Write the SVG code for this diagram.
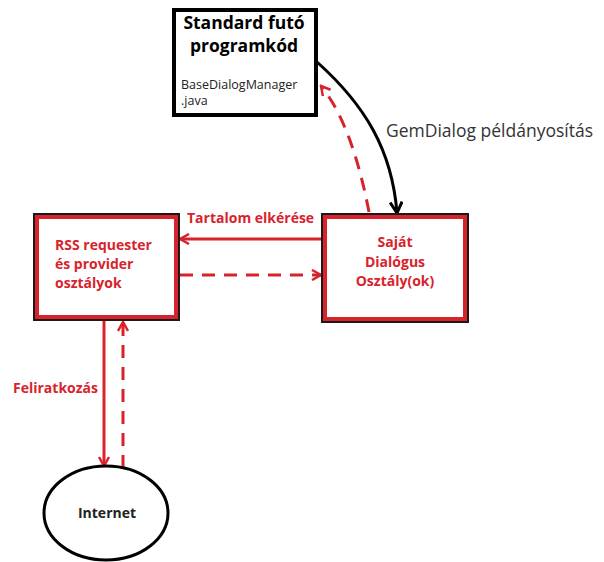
<svg xmlns="http://www.w3.org/2000/svg" width="604" height="562" viewBox="0 0 604 562">
  <style>
    .t { font-family: "Open Sans", "Liberation Sans", sans-serif; }
    .red { fill: #d8232c; font-weight: bold; font-size: 14px; }
    .box-red { fill: #fff; stroke: #d8232c; stroke-width: 4; }
    .box-shadow { fill: none; stroke: #1a1a1a; stroke-width: 2; }
    .ln-red { fill: none; stroke: #d8232c; stroke-width: 3; }
    .dash { stroke-dasharray: 13 9; }
  </style>
  <defs>
    <marker id="ah-red" viewBox="0 0 12 12" refX="10" refY="6" markerWidth="12" markerHeight="12" markerUnits="userSpaceOnUse" orient="auto">
      <path d="M1,1 L10,6 L1,11" fill="none" stroke="#d8232c" stroke-width="2.5"/>
    </marker>
    <marker id="ah-black" viewBox="0 0 14 14" refX="12" refY="7" markerWidth="14" markerHeight="14" markerUnits="userSpaceOnUse" orient="auto">
      <path d="M1,1 L12,7 L1,13" fill="none" stroke="#000" stroke-width="3"/>
    </marker>
  </defs>
  <rect width="604" height="562" fill="#fff"/>

  <g id="connectors">
    <path d="M317,62 C365,105 392,150 397,213" fill="none" stroke="#000" stroke-width="3" marker-end="url(#ah-black)"/>
    <path class="ln-red dash" d="M369,212 C360,165 345,115 321,86" marker-end="url(#ah-red)"/>
    <path class="ln-red" d="M322,239 L180,239" marker-end="url(#ah-red)"/>
    <path class="ln-red dash" d="M180,275 L321,275" marker-end="url(#ah-red)"/>
    <path class="ln-red" d="M104,321 L104,466" marker-end="url(#ah-red)"/>
    <path class="ln-red dash" d="M123,468 L123,322" marker-end="url(#ah-red)"/>
  </g>

  <g id="standard">
    <rect x="174" y="10" width="142" height="105" fill="#fff" stroke="#000" stroke-width="4"/>
    <text class="t" x="244" y="29" text-anchor="middle" font-size="17.5" font-weight="bold">Standard futó</text>
    <text class="t" x="244" y="52" text-anchor="middle" font-size="17.5" font-weight="bold">programkód</text>
    <text class="t" x="181" y="89" font-size="12.5" fill="#222">BaseDialogManager</text>
    <text class="t" x="181" y="105" font-size="12.5" fill="#222">.java</text>
  </g>

  <g id="rss">
    <rect class="box-shadow" x="34" y="214" width="145" height="106"/>
    <rect class="box-red" x="37" y="217" width="139" height="100"/>
    <text class="t red" x="55" y="250">RSS requester</text>
    <text class="t red" x="55" y="269">és provider</text>
    <text class="t red" x="55" y="288">osztályok</text>
  </g>

  <g id="sajat">
    <rect class="box-shadow" x="322" y="214" width="146" height="108"/>
    <rect class="box-red" x="325" y="217" width="140" height="102"/>
    <text class="t red" x="395" y="247" text-anchor="middle">Saját</text>
    <text class="t red" x="395" y="267" text-anchor="middle">Dialógus</text>
    <text class="t red" x="395" y="286" text-anchor="middle">Osztály(ok)</text>
  </g>

  <g id="internet">
    <ellipse cx="106" cy="513" rx="62" ry="47" fill="#fff" stroke="#000" stroke-width="3"/>
    <text class="t" x="107" y="518" text-anchor="middle" font-size="14" font-weight="bold" fill="#222">Internet</text>
  </g>

  <g id="labels">
    <text class="t" x="386" y="137" font-size="17.5" fill="#333">GemDialog példányosítás</text>
    <text class="t red" x="187" y="223">Tartalom elkérése</text>
    <text class="t red" x="13" y="393">Feliratkozás</text>
  </g>
</svg>
